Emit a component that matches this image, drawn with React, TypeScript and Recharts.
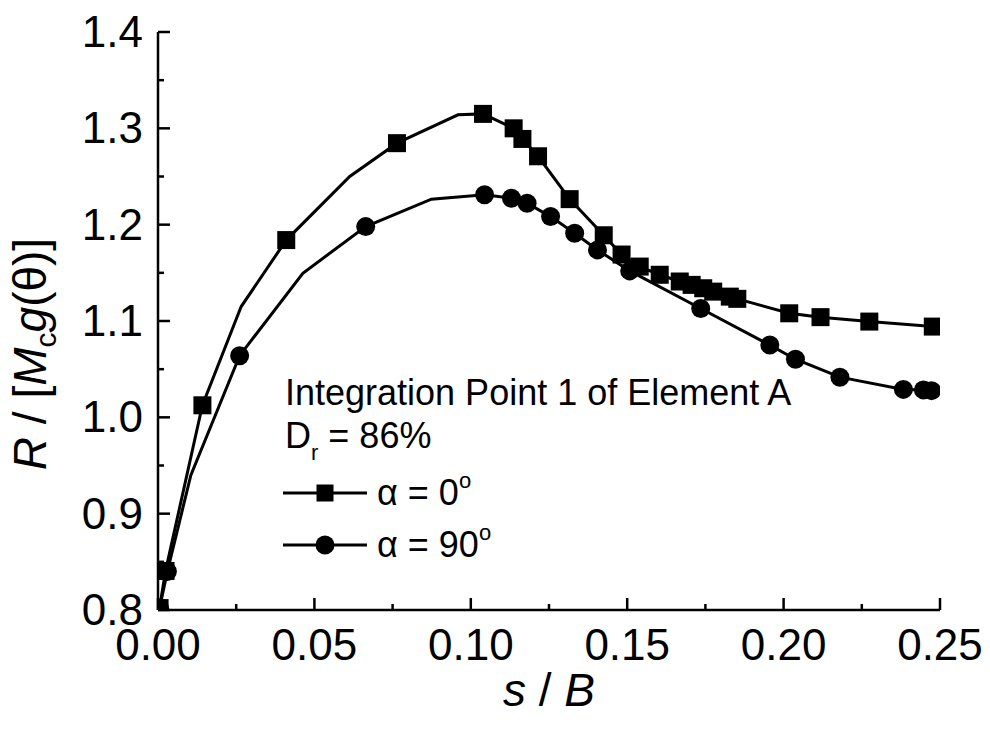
import React from "react";
import { LineChart, Line, XAxis, YAxis, Customized } from "recharts";

// alpha = 0 deg series (squares); MARK = 1 where a marker is drawn
const A0_X = [0.0005, 0.0024, 0.0142, 0.0266, 0.041, 0.0613, 0.0764, 0.0959, 0.1039, 0.1137, 0.1165, 0.1215, 0.1316, 0.1425, 0.1482, 0.154, 0.1604, 0.1668, 0.1706, 0.1743, 0.1775, 0.1828, 0.1852, 0.2018, 0.2118, 0.2274, 0.2477];
const A0_Y = [0.802, 0.8405, 1.0125, 1.115, 1.184, 1.25, 1.2846, 1.314, 1.315, 1.3, 1.289, 1.271, 1.2265, 1.189, 1.169, 1.1565, 1.148, 1.141, 1.1375, 1.134, 1.1305, 1.1253, 1.123, 1.108, 1.104, 1.0994, 1.0942];
const A0_MARK = [1, 1, 1, 0, 1, 0, 1, 0, 1, 1, 1, 1, 1, 1, 1, 1, 1, 1, 1, 1, 1, 1, 1, 1, 1, 1, 1];

// alpha = 90 deg series (circles)
const A90_X = [0.0005, 0.003, 0.0105, 0.0261, 0.0463, 0.0664, 0.0874, 0.1044, 0.113, 0.118, 0.1255, 0.1332, 0.1405, 0.1508, 0.1735, 0.1956, 0.2038, 0.218, 0.2383, 0.2447, 0.2473];
const A90_Y = [0.802, 0.84, 0.94, 1.064, 1.1496, 1.198, 1.2265, 1.231, 1.2275, 1.2223, 1.2084, 1.191, 1.1738, 1.152, 1.113, 1.075, 1.0603, 1.0417, 1.029, 1.0285, 1.0277];
const A90_MARK = [1, 1, 0, 1, 0, 1, 0, 1, 1, 1, 1, 1, 1, 1, 1, 1, 1, 1, 1, 1, 1];

const X_TICKS = [0, 0.025, 0.05, 0.075, 0.1, 0.125, 0.15, 0.175, 0.2, 0.225, 0.25];
const X_MAJOR = [0, 0.05, 0.1, 0.15, 0.2, 0.25];
const Y_TICKS = [0.8, 0.85, 0.9, 0.95, 1.0, 1.05, 1.1, 1.15, 1.2, 1.25, 1.3, 1.35, 1.4];
const Y_MAJOR = [0.8, 0.9, 1.0, 1.1, 1.2, 1.3, 1.4];

const LEGEND_TITLE = "Integration Point 1 of Element A";
const LEGEND_DR = "86%";
const SERIES_NAMES = ["0", "90"];

const FONT = "'Liberation Sans', Arial, Helvetica, sans-serif";

const a0Data = A0_X.map((x, i) => ({ x, y: A0_Y[i], m: A0_MARK[i] }));
const a90Data = A90_X.map((x, i) => ({ x, y: A90_Y[i], m: A90_MARK[i] }));

const isMajor = (v: number, list: number[]) => list.some((t) => Math.abs(t - v) < 1e-9);

const XTick = (props: any) => {
  const { x, y, payload } = props;
  const v = payload.value;
  const major = isMajor(v, X_MAJOR);
  return (
    <g>
      <line x1={x} y1={y} x2={x} y2={y - (major ? 12 : 6)} stroke="#000" strokeWidth={2.5} />
      {major && (
        <text x={x} y={y + 50} textAnchor="middle" fontSize={44} fontFamily={FONT} fill="#000">
          {v.toFixed(2)}
        </text>
      )}
    </g>
  );
};

const YTick = (props: any) => {
  const { x, y, payload } = props;
  const v = payload.value;
  const major = isMajor(v, Y_MAJOR);
  return (
    <g>
      <line x1={x} y1={y} x2={x + (major ? 12 : 6)} y2={y} stroke="#000" strokeWidth={2.5} />
      {major && (
        <text x={x - 15} y={y} dy="0.34em" textAnchor="end" fontSize={44} fontFamily={FONT} fill="#000">
          {v.toFixed(1)}
        </text>
      )}
    </g>
  );
};

const SquareDot = (props: any) => {
  const { cx, cy, payload, index } = props;
  if (!payload.m) return <g key={"s" + index} />;
  return <rect key={"s" + index} x={cx - 9} y={cy - 9} width={18} height={18} fill="#000" />;
};

const CircleDot = (props: any) => {
  const { cx, cy, payload, index } = props;
  if (!payload.m) return <g key={"c" + index} />;
  return <circle key={"c" + index} cx={cx} cy={cy} r={9.5} fill="#000" />;
};

const Annotations = () => (
  <g fontFamily={FONT} fill="#000">
    <text x={285} y={405} fontSize={36}>{LEGEND_TITLE}</text>
    <text x={285} y={448} fontSize={36}>
      D<tspan fontSize={22} dy={12}>r</tspan>
      <tspan dy={-12}>{" = " + LEGEND_DR}</tspan>
    </text>
    <line x1={283} y1={493} x2={367} y2={493} stroke="#000" strokeWidth={3} />
    <rect x={316.5} y={484.5} width={17} height={17} fill="#000" />
    <text x={377} y={505} fontSize={36}>
      {"\u03b1 = " + SERIES_NAMES[0]}
      <tspan fontSize={22} dy={-17}>o</tspan>
    </text>
    <line x1={283} y1={545} x2={367} y2={545} stroke="#000" strokeWidth={3} />
    <circle cx={325} cy={545} r={9.5} fill="#000" />
    <text x={377} y={557} fontSize={36}>
      {"\u03b1 = " + SERIES_NAMES[1]}
      <tspan fontSize={22} dy={-17}>o</tspan>
    </text>
    {/* axis titles */}
    <text
      x={0}
      y={0}
      transform="translate(46, 354) rotate(-90)"
      textAnchor="middle"
      fontSize={46}
    >
      <tspan fontStyle="italic">R</tspan>
      <tspan>{" / ["}</tspan>
      <tspan fontStyle="italic">M</tspan>
      <tspan fontSize={30} dy={10}>c</tspan>
      <tspan fontStyle="italic" dy={-10}>g</tspan>
      <tspan>{"(\u03b8)]"}</tspan>
    </text>
    <text x={549} y={706} textAnchor="middle" fontSize={46}>
      <tspan fontStyle="italic">s</tspan>
      <tspan>{" / "}</tspan>
      <tspan fontStyle="italic">B</tspan>
    </text>
  </g>
);

export default function App() {
  return (
    <div style={{ position: "absolute", left: 0, top: 0, width: 990, height: 740, background: "#fff" }}>
      <LineChart width={990} height={740} margin={{ top: 32, right: 50, bottom: 70, left: 98 }}>
        <XAxis
          dataKey="x"
          type="number"
          domain={[0, 0.25]}
          ticks={X_TICKS}
          interval={0}
          allowDataOverflow
          tickSize={0}
          tickMargin={0}
          tickLine={false}
          axisLine={{ stroke: "#000", strokeWidth: 2.5 }}
          tick={<XTick />}
          height={60}
        />
        <YAxis
          dataKey="y"
          type="number"
          domain={[0.8, 1.4]}
          ticks={Y_TICKS}
          interval={0}
          allowDataOverflow
          tickSize={0}
          tickMargin={0}
          tickLine={false}
          axisLine={{ stroke: "#000", strokeWidth: 2.5 }}
          tick={<YTick />}
          width={60}
        />
        <Line
          data={a0Data}
          dataKey="y"
          type="linear"
          stroke="#000"
          strokeWidth={3}
          dot={SquareDot}
          activeDot={false}
          isAnimationActive={false}
        />
        <Line
          data={a90Data}
          dataKey="y"
          type="linear"
          stroke="#000"
          strokeWidth={3}
          dot={CircleDot}
          activeDot={false}
          isAnimationActive={false}
        />
        <Customized component={Annotations} />
      </LineChart>
    </div>
  );
}
